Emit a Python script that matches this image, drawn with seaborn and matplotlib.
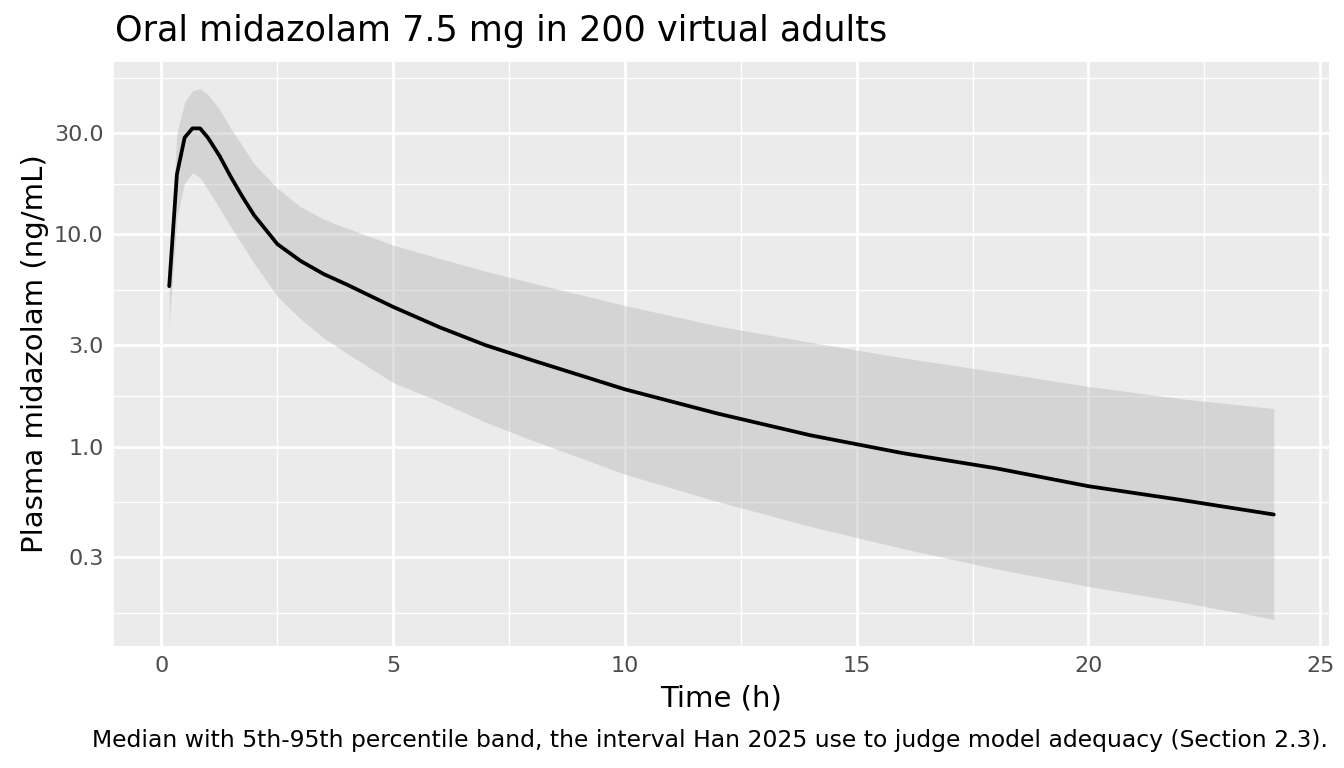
import numpy as np
import pandas as pd
import matplotlib
matplotlib.use("Agg")
import matplotlib.pyplot as plt
import seaborn as sns

# Values (time in h, concentrations in ng/mL)
time_h = [0.167, 0.333, 0.5, 0.667, 0.833, 1.0, 1.25, 1.5, 1.75, 2.0, 2.5, 3.0,
          3.5, 4.0, 5.0, 6.0, 7.0, 8.0, 10.0, 12.0, 14.0, 16.0, 18.0, 20.0, 22.0, 24.0]
median = [5.7, 19.2, 28.6, 31.6, 31.6, 28.6, 23.5, 18.6, 15.0, 12.3, 9.0, 7.5,
          6.5, 5.8, 4.55, 3.65, 3.0, 2.55, 1.86, 1.43, 1.13, 0.93, 0.79, 0.65, 0.56, 0.478]
p95 = [7.0, 30.0, 42.0, 47.5, 48.7, 45.7, 39.0, 31.5, 26.0, 21.5, 16.5, 13.5,
       11.8, 10.7, 8.9, 7.7, 6.7, 5.9, 4.62, 3.7, 3.1, 2.62, 2.25, 1.92, 1.68, 1.51]
p05 = [3.7, 12.0, 17.5, 19.5, 18.5, 16.3, 13.3, 10.8, 8.9, 7.3, 5.1, 4.0,
       3.25, 2.75, 2.0, 1.63, 1.3, 1.07, 0.74, 0.55, 0.42, 0.33, 0.265, 0.219, 0.185, 0.153]

y_breaks = [0.3, 1.0, 3.0, 10.0, 30.0]
y_labels = ["0.3", "1.0", "3.0", "10.0", "30.0"]
x_breaks = [0, 5, 10, 15, 20, 25]

title = "Oral midazolam 7.5 mg in 200 virtual adults"
caption = ("Median with 5th-95th percentile band, the interval Han 2025 use to "
           "judge model adequacy (Section 2.3).")

df = pd.DataFrame({"time": time_h, "median": median, "lo": p05, "hi": p95})

sns.set_theme(style="darkgrid", rc={
    "axes.facecolor": "#EBEBEB",
    "grid.color": "white",
    "axes.edgecolor": "none",
})
plt.rcParams["font.family"] = ["DejaVu Sans"]

W, H = 1344, 768
fig = plt.figure(figsize=(W / 100, H / 100), dpi=100)
ax = fig.add_axes([114 / W, 1 - 646 / H, (1329 - 114) / W, (646 - 62) / H])

ax.fill_between(df["time"], df["lo"], df["hi"], color="#B3B3B3", alpha=0.4,
                linewidth=0, zorder=2)
sns.lineplot(data=df, x="time", y="median", ax=ax, color="black", linewidth=2.7,
             zorder=3)

ax.set_yscale("log")

# ticks and minor grid (midpoints in log space, like ggplot)
ax.set_yticks(y_breaks)
ax.set_yticklabels(y_labels)
lb = np.log10(y_breaks)
ext = np.concatenate([[lb[0] - (lb[1] - lb[0])], lb, [lb[-1] + (lb[1] - lb[0])]])
ax.set_yticks(10 ** ((ext[:-1] + ext[1:]) / 2), minor=True)
ax.set_xticks(x_breaks)
ax.set_xticks([b + 2.5 for b in x_breaks], minor=True)
ax.yaxis.set_minor_formatter(matplotlib.ticker.NullFormatter())
ax.xaxis.set_minor_formatter(matplotlib.ticker.NullFormatter())

# ggplot-like 5% expansion (after ticks so they don't widen the view)
xmin, xmax = df["time"].min(), df["time"].max()
dx = (xmax - xmin) * 0.05
ax.set_xlim(xmin - dx, xmax + dx)
lmin, lmax = np.log10(df["lo"].min()), np.log10(df["hi"].max())
dl = (lmax - lmin) * 0.05
ax.set_ylim(10 ** (lmin - dl), 10 ** (lmax + dl))

ax.grid(which="major", color="white", linewidth=2.0, zorder=0)
ax.grid(which="minor", color="white", linewidth=1.0, zorder=0)
ax.set_axisbelow(True)
ax.tick_params(which="major", length=4.5, width=1.4, color="#333333",
               labelcolor="#4D4D4D", labelsize=16, pad=3)
ax.tick_params(which="minor", length=0)
for s in ax.spines.values():
    s.set_visible(False)

ax.set_xlabel("")
ax.set_ylabel("")
fig.text(721 / W, 1 - 699 / H, "Time (h)", fontsize=21, ha="center",
         va="center", color="black")
fig.text(35 / W, 1 - 354 / H, "Plasma midazolam (ng/mL)", fontsize=21,
         rotation=90, ha="center", va="center", color="black")

fig.text(115 / W, 1 - 31 / H, title, fontsize=25.2, ha="left", va="center",
         color="black")
fig.text(1328 / W, 1 - 741 / H, caption, fontsize=16.9, ha="right", va="center",
         color="black")

fig.savefig("out.png", dpi=100)
